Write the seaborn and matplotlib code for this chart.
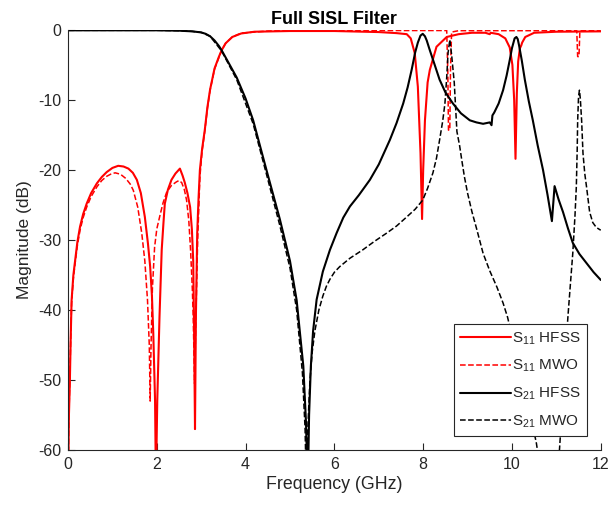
import numpy as np
import pandas as pd
import matplotlib
matplotlib.use("Agg")
import matplotlib.pyplot as plt
import seaborn as sns

# ---------------- data (frequency in GHz, magnitude in dB) ----------------
s11_hfss_f = [0.0, 0.01, 0.02, 0.04, 0.06, 0.08, 0.12, 0.16, 0.21, 0.27, 0.34, 0.42, 0.52, 0.65, 0.76,
              0.87, 1.0, 1.13, 1.25, 1.36, 1.46, 1.55, 1.64, 1.73, 1.8, 1.85, 1.89, 1.92, 1.96, 1.98,
              2.01, 2.06, 2.11, 2.15, 2.18, 2.25, 2.33, 2.42, 2.52, 2.58, 2.63, 2.69, 2.75, 2.79, 2.82,
              2.84, 2.86, 2.88, 2.91, 2.94, 2.97, 3.02, 3.08, 3.14, 3.2, 3.3, 3.4, 3.46, 3.55, 3.7, 3.9,
              4.2, 5.0, 6.0, 7.0, 7.4, 7.63, 7.72, 7.81, 7.88, 7.94, 7.975, 8.0, 8.04, 8.1, 8.15, 8.3,
              8.53, 8.8, 9.1, 9.4, 9.5, 9.52, 9.7, 9.85, 9.95, 10.01, 10.05, 10.08, 10.11, 10.14, 10.18,
              10.21, 10.23, 10.3, 10.5, 11.0, 12.0]
s11_hfss_db = [-70, -60, -55, -50.5, -44, -38.6, -35, -32.9, -30.3, -28.1, -26.3, -24.8, -23.3, -21.9, -21,
               -20.3, -19.7, -19.4, -19.5, -19.8, -20.4, -21.4, -23.3, -26.7, -30.5, -33.8, -38, -43.3, -52.9, -65,
               -52.9, -41, -31.4, -27.5, -24.8, -22.8, -21.4, -20.5, -19.8, -20.8, -21.8, -23.3, -25.3, -28.5, -33,
               -43.3, -57.0, -41, -29, -24, -20, -17, -14.3, -11, -8.5, -5.5, -3.8, -2.9, -1.9, -1.0, -0.5,
               -0.25, -0.15, -0.15, -0.3, -0.45, -0.6, -1.2, -3.3, -8.1, -17.6, -27, -20, -12.9, -7.5, -5.7, -2.4,
               -1.0, -0.6, -0.4, -0.4, -0.6, -0.4, -0.6, -1.2, -2.5, -5, -10, -18.4, -9, -4.5, -2.6,
               -2.2, -1.8, -1.0, -0.4, -0.25, -0.2]

s11_mwo_f = [0.0, 0.01, 0.02, 0.04, 0.06, 0.08, 0.12, 0.16, 0.21, 0.27, 0.34, 0.42, 0.52, 0.65, 0.76,
             0.87, 0.96, 1.06, 1.18, 1.3, 1.4, 1.47, 1.57, 1.66, 1.73, 1.79, 1.83, 1.85, 1.87, 1.9, 1.95,
             2.0, 2.07, 2.14, 2.22, 2.33, 2.44, 2.5, 2.56, 2.62, 2.67, 2.72, 2.76, 2.8, 2.82, 2.85, 2.88,
             2.92, 2.97, 3.02, 3.08, 3.14, 3.2, 3.3, 3.4, 3.46, 3.55, 3.7, 3.9, 4.5, 5.0, 8.53, 8.555,
             8.57, 8.6, 8.615, 8.64, 8.8, 11.46, 11.48, 11.51, 11.53, 12.0]
s11_mwo_db = [-70, -60, -55, -50, -44, -39, -35.5, -33.3, -30.8, -28.6, -26.8, -25.3, -23.8, -22.4, -21.5,
              -20.9, -20.6, -20.4, -20.6, -21.2, -22.0, -22.9, -25.3, -29, -33, -38.6, -45, -53, -45, -37, -31,
              -28.4, -26.5, -24.7, -23.2, -22.2, -21.7, -21.5, -21.8, -22.8, -24.3, -27.2, -31.4, -37, -41, -50.5, -41,
              -30, -21, -17.3, -14.5, -11.2, -8.6, -5.6, -3.9, -2.9, -1.9, -1.0, -0.45, -0.15, -0.08, -0.08, -6,
              -14.3, -14.3, -6, -0.3, -0.1, -0.1, -3.8, -3.8, -0.1, -0.08]

s21_hfss_f = [0.0, 1.0, 2.0, 2.5, 2.8, 3.0, 3.1, 3.2, 3.3, 3.4, 3.46, 3.6, 3.8, 4.0, 4.17, 4.47, 4.77,
              5.0, 5.15, 5.3, 5.36, 5.4, 5.43, 5.47, 5.52, 5.6, 5.74, 5.9, 6.05, 6.2, 6.35, 6.55, 6.8,
              7.0, 7.25, 7.4, 7.55, 7.65, 7.74, 7.82, 7.88, 7.94, 7.99, 8.04, 8.08, 8.15, 8.25, 8.37, 8.5,
              8.67, 8.85, 9.05, 9.2, 9.35, 9.5, 9.54, 9.56, 9.6, 9.7, 9.8, 9.88, 9.95, 10.0, 10.06, 10.1,
              10.13, 10.16, 10.22, 10.29, 10.38, 10.47, 10.58, 10.7, 10.8, 10.9, 10.96, 11.05, 11.15,
              11.26, 11.37, 11.52, 11.68, 11.84, 12.0]
s21_hfss_db = [-0.05, -0.05, -0.05, -0.1, -0.2, -0.35, -0.55, -0.9, -1.5, -2.3, -2.9, -4.5, -6.8, -9.8, -12.9, -20, -27,
               -33, -38.6, -48, -56, -66, -55, -48, -43, -38.5, -34.5, -31.4, -29, -26.8, -25.2, -23.6, -21.4,
               -19.2, -15.7, -13.3, -10.5, -8.2, -5.7, -3.2, -1.8, -0.8, -0.55, -0.9, -1.5, -2.9, -4.8, -7.1, -8.9,
               -10.5, -11.9, -12.9, -13.2, -13.4, -13.2, -13.6, -12.2, -11.8, -10.5, -8.6, -6.5, -4.3, -2.6, -1.2, -1.0,
               -1.3, -2.2, -4.3, -7.1, -10.2, -12.9, -16.5, -20, -23.5, -27.3, -22.3, -24.2, -26,
               -28.3, -30.4, -32, -33.3, -34.6, -35.7]

s21_mwo_f = [0.0, 1.0, 2.0, 2.5, 2.8, 3.0, 3.2, 3.46, 3.8, 4.17, 4.47, 4.77, 5.0, 5.15, 5.28, 5.34, 5.37,
             5.4, 5.45, 5.5, 5.56, 5.65, 5.74, 5.82, 5.9, 6.0, 6.12, 6.35, 6.64, 6.9, 7.18, 7.4, 7.63, 7.82,
             7.99, 8.1, 8.22, 8.3, 8.37, 8.44, 8.49, 8.53, 8.56, 8.6, 8.64, 8.67, 8.7, 8.76, 8.82, 8.87,
             8.93, 9.0, 9.1, 9.2, 9.35, 9.5, 9.66, 9.8, 9.9, 10.05, 10.2, 10.35, 10.45, 10.55, 10.62, 10.9,
             11.05, 11.15, 11.26, 11.32, 11.37, 11.42, 11.45, 11.47, 11.48, 11.5, 11.52, 11.54, 11.57,
             11.6, 11.64, 11.68, 11.75, 11.82, 11.9, 12.0]
s21_mwo_db = [-0.05, -0.05, -0.05, -0.1, -0.2, -0.35, -0.9, -3.0, -7.1, -13.4, -20.6, -27.9, -34, -40, -49, -57, -66,
              -57, -50, -46, -43, -40, -38, -36.6, -35.6, -34.6, -33.8, -32.6, -31.4, -30.2, -29, -28, -26.7, -25.6,
              -24.3, -22.6, -20.4, -18.3, -15.7, -13, -10.5, -6.8, -3.3, -1.4, -3.5, -5.5, -7.5, -14.5, -16.5, -18.6,
              -21, -23.3, -26, -28.3, -31.9, -34.4, -36.7, -39, -41, -45, -49, -53, -56, -59, -62, -68,
              -62, -52, -41, -36, -31.9, -26.5, -22.4, -17, -13, -9.5, -8.6, -9.8, -13,
              -17.6, -20.5, -22.4, -26, -27.5, -28.2, -28.6]

x_ticks = [0, 2, 4, 6, 8, 10, 12]
y_ticks = [-60, -50, -40, -30, -20, -10, 0]
labels = ["S$_{11}$ HFSS", "S$_{11}$ MWO", "S$_{21}$ HFSS", "S$_{21}$ MWO"]

# ---------------- style ----------------
sns.set_style("ticks")
plt.rcParams["font.family"] = ["Liberation Sans", "DejaVu Sans"]
plt.rcParams["mathtext.default"] = "regular"
plt.rcParams["axes.unicode_minus"] = False

fig = plt.figure(figsize=(6.13, 5.08), dpi=100)
ax = fig.add_axes([0.111, 0.114, 0.869, 0.827])

series = [
    (s11_hfss_f, s11_hfss_db, "#ff0000", "-", 1.5, labels[0]),
    (s11_mwo_f, s11_mwo_db, "#ff0000", "--", 1.1, labels[1]),
    (s21_hfss_f, s21_hfss_db, "#000000", "-", 1.5, labels[2]),
    (s21_mwo_f, s21_mwo_db, "#000000", "--", 1.1, labels[3]),
]
for f, db, c, ls, lw, lab in series:
    df = pd.DataFrame({"f": f, "db": db})
    kw = dict(dashes=(6, 3.5)) if ls == "--" else {}
    sns.lineplot(data=df, x="f", y="db", ax=ax, color=c, linestyle=ls, lw=lw,
                 label=lab, sort=False, estimator=None, **kw)

ax.set_xlim(0, 12)
ax.set_ylim(-60, 0)
ax.set_xticks(x_ticks)
ax.set_yticks(y_ticks)
dark = "#262626"
for side in ["top", "right"]:
    ax.spines[side].set_visible(False)
for side in ["left", "bottom"]:
    ax.spines[side].set_color(dark)
    ax.spines[side].set_linewidth(0.8)
ax.tick_params(direction="in", length=5, width=0.8, colors=dark, labelsize=11.5, pad=5)
ax.set_xlabel("Frequency (GHz)", fontsize=12.8, color=dark, labelpad=3)
ax.set_ylabel("Magnitude (dB)", fontsize=12.5, color=dark, labelpad=4)
ax.set_title("Full SISL Filter", fontsize=13, fontweight="bold", color="black", pad=4)

leg = ax.legend(loc="lower right", bbox_to_anchor=(0.974, 0.033), borderaxespad=0,
                frameon=True, fancybox=False, framealpha=1, edgecolor=dark,
                fontsize=11, handlelength=3.3, labelspacing=0.75, handletextpad=0.1,
                borderpad=0.4)
leg.get_frame().set_linewidth(0.8)
for t in leg.get_texts():
    t.set_color(dark)

fig.savefig("out.png", dpi=100)
